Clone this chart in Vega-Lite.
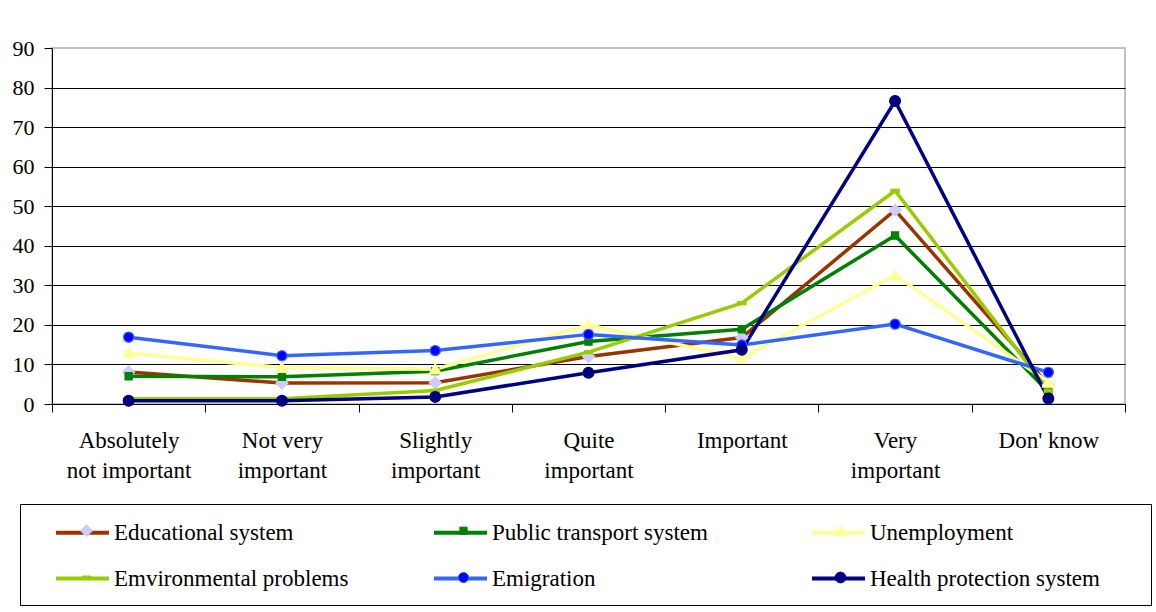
{
  "$schema": "https://vega.github.io/schema/vega-lite/v6.json",
  "width": 1073,
  "height": 356,
  "autosize": {"type": "none"},
  "padding": {"left": 52, "top": 48, "right": 31, "bottom": 208},
  "background": "white",
  "config": {
    "font": "Liberation Serif",
    "view": {"stroke": "#c0c0c0", "strokeWidth": 2},
    "axis": {
      "labelFont": "Liberation Serif",
      "labelColor": "black",
      "domainColor": "black",
      "domainWidth": 1,
      "tickColor": "black",
      "tickSize": 8,
      "title": null
    },
    "legend": {
      "labelFont": "Liberation Serif",
      "labelFontSize": 23,
      "labelColor": "black",
      "labelLimit": 400,
      "title": null
    }
  },
  "data": {
    "values": [
      {"cat": "Absolutely|not important", "series": "Educational system", "value": 8.1},
      {"cat": "Not very|important", "series": "Educational system", "value": 5.3},
      {"cat": "Slightly|important", "series": "Educational system", "value": 5.4},
      {"cat": "Quite|important", "series": "Educational system", "value": 12.0},
      {"cat": "Important", "series": "Educational system", "value": 16.8},
      {"cat": "Very|important", "series": "Educational system", "value": 49.0},
      {"cat": "Don' know", "series": "Educational system", "value": 4.8},

      {"cat": "Absolutely|not important", "series": "Public transport system", "value": 7.0},
      {"cat": "Not very|important", "series": "Public transport system", "value": 6.9},
      {"cat": "Slightly|important", "series": "Public transport system", "value": 8.3},
      {"cat": "Quite|important", "series": "Public transport system", "value": 15.8},
      {"cat": "Important", "series": "Public transport system", "value": 18.9},
      {"cat": "Very|important", "series": "Public transport system", "value": 42.6},
      {"cat": "Don' know", "series": "Public transport system", "value": 3.1},

      {"cat": "Absolutely|not important", "series": "Unemployment", "value": 12.9},
      {"cat": "Not very|important", "series": "Unemployment", "value": 9.2},
      {"cat": "Slightly|important", "series": "Unemployment", "value": 8.8},
      {"cat": "Quite|important", "series": "Unemployment", "value": 20.0},
      {"cat": "Important", "series": "Unemployment", "value": 11.5},
      {"cat": "Very|important", "series": "Unemployment", "value": 32.6},
      {"cat": "Don' know", "series": "Unemployment", "value": 5.5},

      {"cat": "Absolutely|not important", "series": "Emvironmental  problems", "value": 1.3},
      {"cat": "Not very|important", "series": "Emvironmental  problems", "value": 1.3},
      {"cat": "Slightly|important", "series": "Emvironmental  problems", "value": 3.4},
      {"cat": "Quite|important", "series": "Emvironmental  problems", "value": 13.1},
      {"cat": "Important", "series": "Emvironmental  problems", "value": 25.5},
      {"cat": "Very|important", "series": "Emvironmental  problems", "value": 53.9},
      {"cat": "Don' know", "series": "Emvironmental  problems", "value": 3.4},

      {"cat": "Absolutely|not important", "series": "Emigration", "value": 16.9},
      {"cat": "Not very|important", "series": "Emigration", "value": 12.2},
      {"cat": "Slightly|important", "series": "Emigration", "value": 13.5},
      {"cat": "Quite|important", "series": "Emigration", "value": 17.6},
      {"cat": "Important", "series": "Emigration", "value": 14.9},
      {"cat": "Very|important", "series": "Emigration", "value": 20.2},
      {"cat": "Don' know", "series": "Emigration", "value": 8.0},

      {"cat": "Absolutely|not important", "series": "Health protection system", "value": 0.8},
      {"cat": "Not very|important", "series": "Health protection system", "value": 0.8},
      {"cat": "Slightly|important", "series": "Health protection system", "value": 1.8},
      {"cat": "Quite|important", "series": "Health protection system", "value": 7.9},
      {"cat": "Important", "series": "Health protection system", "value": 13.7},
      {"cat": "Very|important", "series": "Health protection system", "value": 76.6},
      {"cat": "Don' know", "series": "Health protection system", "value": 1.4}
    ]
  },
  "encoding": {
    "x": {
      "field": "cat",
      "type": "nominal",
      "sort": null,
      "scale": {"type": "band", "paddingInner": 0, "paddingOuter": 0},
      "axis": {
        "labelFont": "Liberation Serif",
        "labelAngle": 0,
        "labelFontSize": 23,
        "labelExpr": "split(datum.label, '|')",
        "labelLineHeight": 30,
        "labelPadding": 17,
        "labelBaseline": "top",
        "tickBand": "extent",
        "grid": false,
        "labelLimit": 200
      }
    },
    "y": {
      "field": "value",
      "type": "quantitative",
      "scale": {"domain": [0, 90], "nice": false},
      "axis": {
        "labelFont": "Liberation Serif",
        "values": [0, 10, 20, 30, 40, 50, 60, 70, 80, 90],
        "labelFontSize": 22,
        "labelPadding": 10,
        "grid": true,
        "gridColor": {"condition": {"test": "datum.value == 90", "value": "#c0c0c0"}, "value": "black"},
        "gridWidth": 1
      }
    }
  },
  "layer": [
    {
      "mark": {"type": "line", "strokeWidth": 3.5},
      "encoding": {
        "color": {
          "field": "series",
          "type": "nominal",
          "sort": null,
          "scale": {
            "domain": ["Educational system", "Public transport system", "Unemployment", "Emvironmental  problems", "Emigration", "Health protection system"],
            "range": ["#993300", "#008000", "#FFFF99", "#99CC00", "#3366FF", "#000080"]
          },
          "legend": {
            "orient": "none",
            "legendX": 2,
            "legendY": 456,
            "direction": "horizontal",
            "columns": 3,
            "gridAlign": "all",
            "columnPadding": 71,
            "rowPadding": 5,
            "padding": 0,
            "symbolType": "stroke",
            "symbolSize": 2809,
            "symbolStrokeWidth": 4,
            "labelFont": "Liberation Serif",
            "labelOffset": 3
          }
        }
      }
    },
    {
      "mark": {"type": "point", "filled": true, "size": 144, "strokeWidth": 1.2, "opacity": 1},
      "encoding": {
        "fill": {
          "field": "series",
          "type": "nominal",
          "sort": null,
          "scale": {
            "domain": ["Educational system", "Public transport system", "Unemployment", "Emvironmental  problems", "Emigration", "Health protection system"],
            "range": ["#CCCCFF", "#008000", "#FFFF99", "#99CC00", "#0000FF", "#000080"]
          },
          "legend": {
            "orient": "none",
            "legendX": -32,
            "legendY": 456,
            "direction": "horizontal",
            "columns": 3,
            "gridAlign": "all",
            "columnPadding": 30,
            "rowPadding": 23,
            "padding": 15,
            "strokeColor": "black",
            "symbolSize": 144,
            "symbolStrokeWidth": 1,
            "symbolOffset": 40,
            "labelExpr": "''",
            "labelOffset": 284
          }
        },
        "stroke": {
          "field": "series",
          "type": "nominal",
          "sort": null,
          "scale": {
            "domain": ["Educational system", "Public transport system", "Unemployment", "Emvironmental  problems", "Emigration", "Health protection system"],
            "range": ["#CCCCFF", "#008000", "#FFFF99", "#99CC00", "#3366FF", "#000080"]
          }
        },
        "shape": {
          "field": "series",
          "type": "nominal",
          "sort": null,
          "scale": {
            "domain": ["Educational system", "Public transport system", "Unemployment", "Emvironmental  problems", "Emigration", "Health protection system"],
            "range": [
              "M0,-1L1,0L0,1L-1,0Z",
              "M-0.6,-0.6H0.6V0.6H-0.6Z",
              "M0,-0.9L1,0.8H-1Z",
              "M-0.7,-0.25H0.7V0.25H-0.7Z",
              "M-0.85,0A0.85,0.85 0 1,0 0.85,0A0.85,0.85 0 1,0 -0.85,0Z",
              "M-0.9,0A0.9,0.9 0 1,0 0.9,0A0.9,0.9 0 1,0 -0.9,0Z"
            ]
          }
        }
      }
    }
  ],
  "resolve": {"legend": {"color": "independent", "fill": "independent", "stroke": "independent", "shape": "independent"}}
}
